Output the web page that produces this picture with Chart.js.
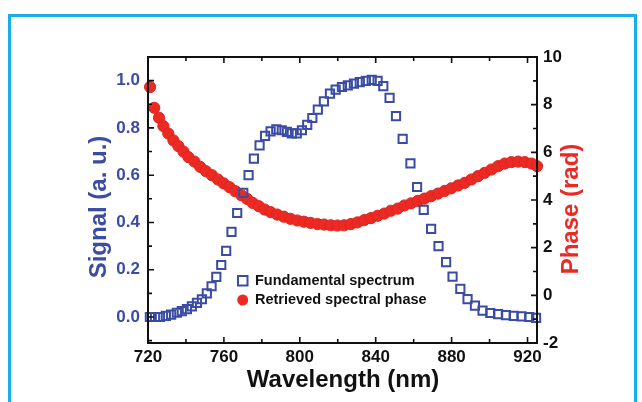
<!DOCTYPE html>
<html>
<head>
<meta charset="utf-8">
<script src="https://cdn.jsdelivr.net/npm/chart.js@4.4.1/dist/chart.umd.min.js"></script>
<style>
html,body{margin:0;padding:0;background:#fff;}
#wrap{position:relative;width:642px;height:402px;}
</style>
</head>
<body>
<div id="wrap"><canvas id="c" width="642" height="402"></canvas></div>
<script>
// ---- data ----
const specWavelength = [721,723.7,726.3,729.4,732.2,735.2,737.8,740.5,743.1,745.8,748.4,751,753.5,756,758.6,761.2,764,767,770.2,773,775.8,778.8,781.7,784.6,787.6,790.5,793.2,795.8,798.4,801.1,803.9,806.6,809.5,812.7,815.9,818.9,822.2,825.3,828.5,831.6,834.8,837.9,841,844,847.3,850.7,854.2,858.3,861.8,865.3,869.2,873.1,877.1,880.5,884.6,888.4,892.3,896.3,900.4,904.5,908.6,912.7,916.8,920.9,924.5];
const specSignal = [0.0,0.0,0.0,0.005,0.01,0.018,0.025,0.033,0.045,0.06,0.075,0.1,0.13,0.17,0.22,0.28,0.36,0.44,0.525,0.60,0.67,0.726,0.766,0.785,0.794,0.79,0.783,0.777,0.777,0.79,0.813,0.842,0.877,0.912,0.945,0.962,0.973,0.98,0.987,0.994,0.999,1.003,0.999,0.977,0.927,0.85,0.754,0.65,0.55,0.453,0.373,0.30,0.232,0.171,0.119,0.076,0.048,0.027,0.017,0.012,0.008,0.005,0.003,0.0,-0.004];
const phaseWavelength = [721.1,723.3,725.8,728.1,730.7,733.4,736.0,738.7,741.3,744.5,747.5,750.5,753.7,756.9,759.8,762.9,766.0,769.2,772.2,775.2,778.4,781.5,784.6,788.1,791.6,795.1,798.7,802.2,805.7,809.3,812.8,816.3,819.8,823.4,826.9,830.4,834.0,837.5,841.0,844.5,848.0,851.6,855.1,858.6,862.2,865.7,869.2,872.8,876.3,879.8,883.4,886.9,890.4,893.9,897.4,901.0,904.5,908.0,911.5,915.1,918.6,922.1,925.0];
const phaseRad = [8.74,7.87,7.45,7.10,6.79,6.50,6.26,6.03,5.80,5.61,5.39,5.21,5.04,4.86,4.70,4.54,4.37,4.20,4.05,3.88,3.74,3.60,3.49,3.39,3.30,3.21,3.14,3.09,3.04,2.99,2.97,2.94,2.93,2.94,2.99,3.06,3.16,3.24,3.34,3.43,3.55,3.64,3.77,3.86,3.96,4.06,4.16,4.27,4.38,4.49,4.61,4.72,4.86,5.00,5.14,5.28,5.42,5.53,5.59,5.61,5.59,5.53,5.42];
const seriesNames = ["Fundamental spectrum","Retrieved spectral phase"];
const xTickLabels = [720,760,800,840,880,920];
const leftTickLabels = [0.0,0.2,0.4,0.6,0.8,1.0];
const rightTickLabels = [-2,0,2,4,6,8,10];
const axisTitles = {x:"Wavelength (nm)", left:"Signal (a. u.)", right:"Phase (rad)"};

const BLUE = '#3a4ca3';
const RED = '#ec2a24';
const FONT = '"Liberation Sans", Arial, sans-serif';

const specPts = specWavelength.map((w,i)=>({x:w,y:specSignal[i]}));
const phasePts = phaseWavelength.map((w,i)=>({x:w,y:phaseRad[i]}));

const framePlugin = {
  id:'frame',
  beforeDraw(chart){
    const ctx = chart.ctx;
    ctx.save();
    ctx.fillStyle='#fff';
    ctx.fillRect(0,0,chart.width,chart.height);
    ctx.strokeStyle='#19aee6';
    ctx.lineWidth=3;
    ctx.beginPath();
    ctx.moveTo(9.5,410);
    ctx.lineTo(9.5,15.5);
    ctx.lineTo(635.5,15.5);
    ctx.lineTo(635.5,410);
    ctx.stroke();
    ctx.restore();
  },
  afterDraw(chart){
    const ctx = chart.ctx;
    const a = chart.chartArea;
    const xs = chart.scales.x, yl = chart.scales.y, yr = chart.scales.y2;
    ctx.save();
    ctx.strokeStyle='#111';
    ctx.lineWidth=2;
    ctx.strokeRect(a.left,a.top,a.right-a.left,a.bottom-a.top);
    ctx.lineWidth=1.6;
    ctx.beginPath();
    for(let v=720; v<=925; v+=20){
      const p = xs.getPixelForValue(v);
      const L = (v%40===0)?6:4;
      ctx.moveTo(p,a.bottom); ctx.lineTo(p,a.bottom-L);
      ctx.moveTo(p,a.top); ctx.lineTo(p,a.top+L);
    }
    for(let k=-1; k<=11; k++){
      const v = k/10;
      const p = yl.getPixelForValue(v);
      if(p<a.top||p>a.bottom) continue;
      const L = (k%2===0)?6:4;
      ctx.moveTo(a.left,p); ctx.lineTo(a.left+L,p);
    }
    for(let v=-2; v<=10; v++){
      const p = yr.getPixelForValue(v);
      const L = (v%2===0)?6:4;
      ctx.moveTo(a.right,p); ctx.lineTo(a.right-L,p);
    }
    ctx.stroke();

    ctx.font = 'bold 24px '+FONT;
    ctx.textAlign='center';
    ctx.textBaseline='alphabetic';
    ctx.fillStyle='#111';
    ctx.fillText(axisTitles.x, 343, 387);
    ctx.save();
    ctx.translate(106, 207);
    ctx.rotate(-Math.PI/2);
    ctx.fillStyle=BLUE;
    ctx.fillText(axisTitles.left, 0, 0);
    ctx.restore();
    ctx.save();
    ctx.translate(578, 209);
    ctx.rotate(-Math.PI/2);
    ctx.fillStyle=RED;
    ctx.fillText(axisTitles.right, 0, 0);
    ctx.restore();

    ctx.lineWidth=2;
    ctx.strokeStyle=BLUE;
    ctx.strokeRect(238,276,9.5,9.5);
    ctx.fillStyle=RED;
    ctx.beginPath();
    ctx.arc(242.7,300,5.5,0,Math.PI*2);
    ctx.fill();
    ctx.fillStyle='#111';
    ctx.font='bold 14.5px '+FONT;
    ctx.textAlign='left';
    ctx.textBaseline='middle';
    ctx.fillText(seriesNames[0], 255, 281);
    ctx.fillText(seriesNames[1], 255, 300);
    ctx.restore();
  }
};

new Chart(document.getElementById('c'), {
  type:'scatter',
  data:{
    datasets:[
      {label:seriesNames[0], data:specPts, yAxisID:'y', clip:false, pointStyle:'rect', pointRadius:5.8, pointBorderWidth:2, borderColor:BLUE, backgroundColor:'rgba(255,255,255,0)', showLine:false},
      {label:seriesNames[1], data:phasePts, yAxisID:'y2', clip:false, pointStyle:'circle', pointRadius:5.6, pointBorderWidth:1, borderColor:'#e0231d', backgroundColor:RED, showLine:false}
    ]
  },
  options:{
    responsive:false,
    devicePixelRatio:1,
    animation:false,
    events:[],
    layout:{padding:{top:57,left:0,right:0,bottom:0}},
    plugins:{legend:{display:false}, tooltip:{enabled:false}},
    scales:{
      x:{type:'linear', position:'bottom', min:720, max:925,
         grid:{display:false, drawTicks:false}, border:{display:false},
         afterFit(s){s.height=59;},
         afterBuildTicks(s){s.ticks = xTickLabels.map(v=>({value:v}));},
         ticks:{color:'#111', font:{family:FONT, size:17, weight:'bold'}, padding:4, maxRotation:0, autoSkip:false, callback:(v)=>String(v)}},
      y:{type:'linear', position:'left', min:-0.11, max:1.10,
         grid:{display:false, drawTicks:false}, border:{display:false},
         afterFit(s){s.width=148;},
         afterBuildTicks(s){s.ticks = leftTickLabels.map(v=>({value:v}));},
         ticks:{color:BLUE, font:{family:FONT, size:17, weight:'bold'}, padding:8, autoSkip:false, callback:(v)=>Number(v).toFixed(1)}},
      y2:{type:'linear', position:'right', min:-2, max:10,
         grid:{display:false, drawTicks:false}, border:{display:false},
         afterFit(s){s.width=105;},
         afterBuildTicks(s){s.ticks = rightTickLabels.map(v=>({value:v}));},
         ticks:{color:'#111', font:{family:FONT, size:17, weight:'bold'}, padding:6, autoSkip:false, callback:(v)=>String(v)}}
    }
  },
  plugins:[framePlugin]
});
</script>
</body>
</html>
